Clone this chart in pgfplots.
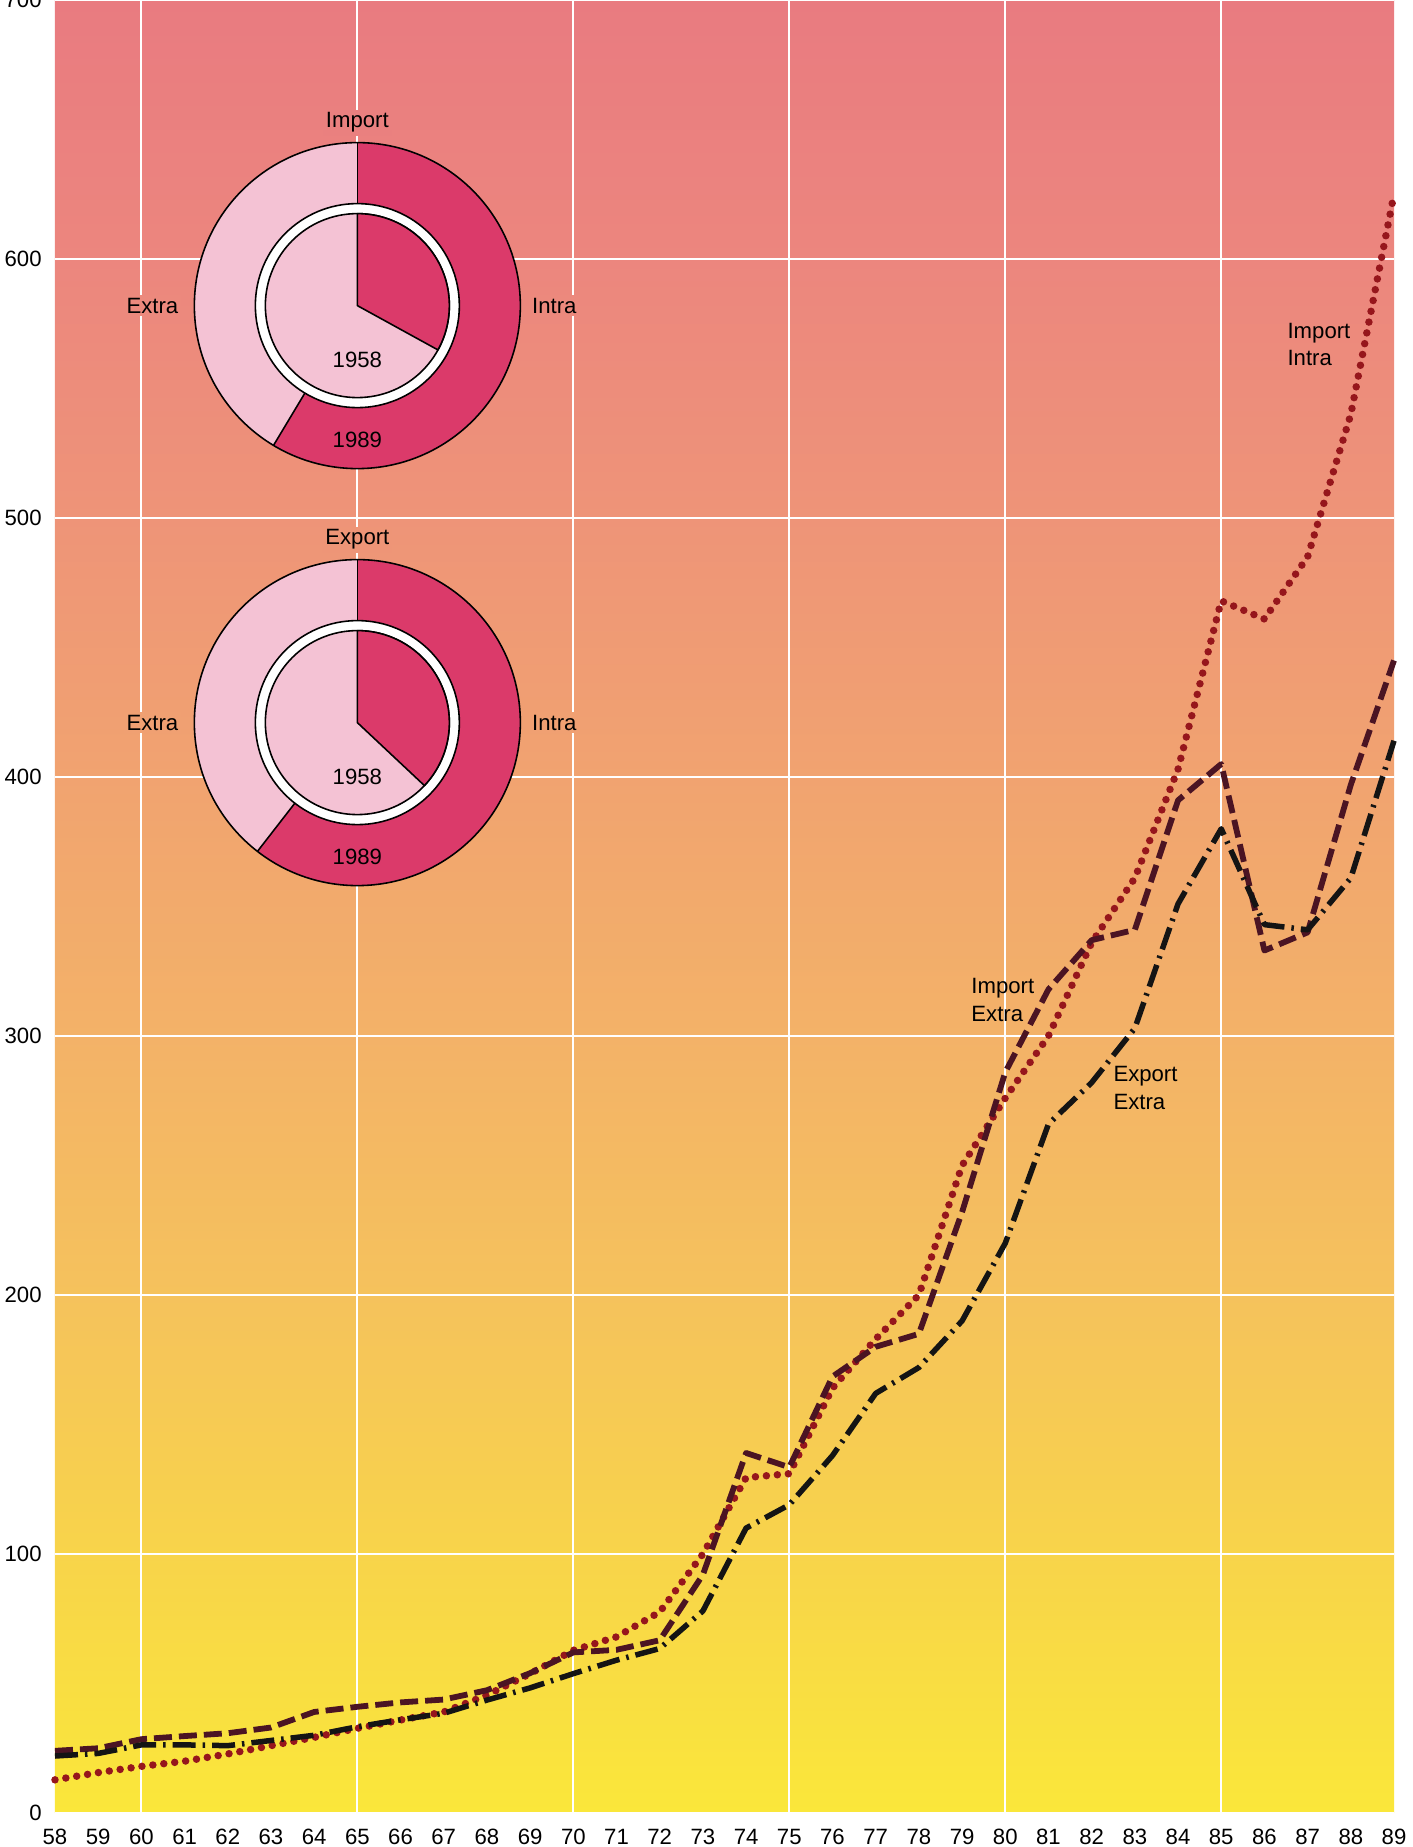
\documentclass[border=0pt]{standalone}
\usepackage{pgfplots}
\pgfplotsset{compat=1.18}
\usepackage{pgfplotstable}
\usepackage{fontspec}
\setmainfont{Liberation Sans}

\definecolor{c0}{RGB}{250,231,58}
\definecolor{c1}{RGB}{248,212,74}
\definecolor{c2}{RGB}{245,194,92}
\definecolor{c3}{RGB}{243,178,104}
\definecolor{c4}{RGB}{241,163,112}
\definecolor{c5}{RGB}{238,148,120}
\definecolor{c6}{RGB}{236,134,126}
\definecolor{c7}{RGB}{233,123,128}
\definecolor{dotcol}{RGB}{150,22,28}
\definecolor{dashcol}{RGB}{75,20,35}
\definecolor{piedark}{RGB}{219,58,106}
\definecolor{pielight}{RGB}{244,194,212}

\pgfdeclareverticalshading{bggrad}{100bp}{color(0bp)=(c0); color(25bp)=(c0); color(32.14bp)=(c1); color(39.29bp)=(c2); color(46.43bp)=(c3); color(53.57bp)=(c4); color(60.71bp)=(c5); color(67.86bp)=(c6); color(75bp)=(c7); color(100bp)=(c7)}

\pgfplotstableread{
year intra impextra expextra
58 12.8 24.0 22.0
59 15.6 25.0 23.0
60 18.0 28.5 26.3
61 20.0 29.7 26.3
62 22.8 30.8 26.0
63 26.0 33.0 28.0
64 29.2 39.0 30.0
65 32.7 41.0 33.3
66 35.9 42.7 36.0
67 39.0 43.8 38.5
68 45.5 47.4 43.6
69 53.8 54.0 48.3
70 62.8 62.0 53.8
71 68.0 63.0 59.0
72 77.6 66.7 63.5
73 100.0 92.0 78.0
74 129.5 139.0 110.0
75 131.0 133.5 119.0
76 164.0 168.5 138.0
77 183.0 180.0 162.0
78 200.0 185.0 172.0
79 250.0 232.0 190.0
80 276.0 286.0 220.0
81 300.0 318.0 266.0
82 336.0 337.0 282.0
83 361.0 341.0 303.0
84 403.0 391.0 351.0
85 468.0 405.0 380.0
86 461.0 333.0 343.0
87 485.0 340.0 341.0
88 540.0 397.0 361.0
89 625.0 445.0 414.0
}\datatable

\newcommand{\lbl}{\fontsize{6.3}{7.9}\selectfont}

% #1 x, #2 y, #3 title, #4 intra 1958 (%), #5 intra 1989 (%), #6 title background, #7 side label background
\newcommand{\donut}[7]{%
 \fill[pielight] (axis cs:#1,#2) circle[radius=16.3mm];
 \fill[piedark] (axis cs:#1,#2) -- ++(90:16.3mm) arc[start angle=90, delta angle=-3.6*#5, radius=16.3mm] -- cycle;
 \draw[black, line width=0.45pt] (axis cs:#1,#2) circle[radius=16.3mm];
 \draw[black, line width=0.45pt] (axis cs:#1,#2) ++(90:10.2mm) -- ++(90:6.1mm);
 \draw[black, line width=0.45pt] (axis cs:#1,#2) ++({90-3.6*#5}:10.2mm) -- ++({90-3.6*#5}:6.1mm);
 \filldraw[fill=white, draw=black, line width=0.45pt] (axis cs:#1,#2) circle[radius=10.2mm];
 \filldraw[fill=pielight, draw=black, line width=0.45pt] (axis cs:#1,#2) circle[radius=9.2mm];
 \filldraw[fill=piedark, draw=black, line width=0.45pt, line join=round] (axis cs:#1,#2) -- ++(90:9.2mm) arc[start angle=90, delta angle=-3.6*#4, radius=9.2mm] -- cycle;
 \node[font=\lbl, inner sep=0.3mm, fill=#6] at ([yshift=18.3mm]axis cs:#1,#2) {#3};
 \node[font=\lbl, inner sep=0.3mm, fill=#7] at ([xshift=-20.5mm]axis cs:#1,#2) {Extra};
 \node[font=\lbl, inner sep=0.3mm, fill=#7] at ([xshift=19.7mm]axis cs:#1,#2) {Intra};
 \node[font=\lbl, inner sep=0pt] at ([yshift=-5.4mm]axis cs:#1,#2) {1958};
 \node[font=\lbl, inner sep=0pt] at ([yshift=-13.4mm]axis cs:#1,#2) {1989};
}

\begin{document}
\begin{tikzpicture}
\begin{axis}[
  name=ax,
  scale only axis,
  width=133.9mm, height=181.3mm,
  xmin=58, xmax=89, ymin=0, ymax=700,
  xtick={58,...,89},
  ytick={0,100,...,700},
  extra x ticks={60,65,70,75,80,85},
  extra x tick labels={},
  extra x tick style={grid=major},
  ymajorgrids,
  major grid style={white, line width=0.6pt},
  axis line style={draw=none},
  major tick length=0pt,
  axis background/.style={shading=bggrad},
  tick label style={font=\lbl},
  /pgf/number format/assume math mode=true,
  /pgf/number format/1000 sep={},
  xticklabel style={yshift=-0.4mm},
  yticklabel style={xshift=-0.1mm},
  clip=false,
]
\donut{65}{582}{Import}{33}{58.6}{c6!48!c7}{c6!82!c5}
\donut{65}{421}{Export}{37}{60.5}{c5!91!c4}{c4!79!c5}

\addplot[no markers, color=dotcol, line width=0.75mm, line cap=round, line join=round, dash pattern=on 0pt off 1.1mm] table[x=year,y=intra]{\datatable};
\addplot[no markers, color=dashcol, line width=0.58mm, line join=round, dash pattern=on 1.8mm off 0.7mm] table[x=year,y=impextra]{\datatable};
\addplot[no markers, color=black!92, line width=0.55mm, line join=round, dash pattern=on 2.3mm off 0.7mm on 0.25mm off 0.7mm] table[x=year,y=expextra]{\datatable};

\node[font=\lbl, anchor=west, align=left, inner sep=0pt] at (axis cs:86.52,567) {Import\\Intra};
\node[font=\lbl, anchor=west, align=left, inner sep=0pt] at (axis cs:79.2,314) {Import\\Extra};
\node[font=\lbl, anchor=west, align=left, inner sep=0pt] at (axis cs:82.49,280) {Export\\Extra};
\end{axis}
\pgfresetboundingbox
\path[use as bounding box] ([xshift=-5.5mm,yshift=-3.4mm]ax.south west) rectangle ([xshift=1.9mm]ax.north east);
\end{tikzpicture}
\end{document}
